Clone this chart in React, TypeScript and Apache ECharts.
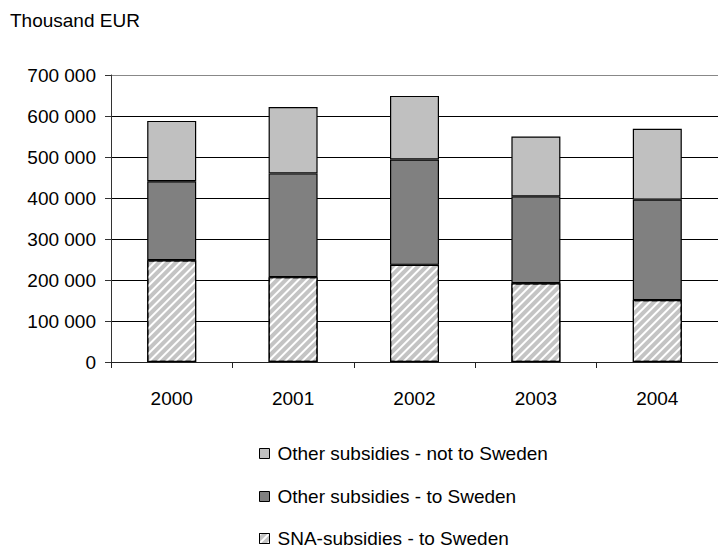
import React, { useEffect, useRef } from "react";
import * as echarts from "echarts";

const years = ["2000", "2001", "2002", "2003", "2004"];
const snaToSweden = [248000, 207000, 237000, 192000, 151000];
const otherToSweden = [193000, 253000, 257000, 212000, 245000];
const otherNotToSweden = [147000, 162000, 155000, 146000, 173000];
const seriesNames = [
  "SNA-subsidies - to Sweden",
  "Other subsidies - to Sweden",
  "Other subsidies - not to Sweden",
];
const legendOrder = [seriesNames[2], seriesNames[1], seriesNames[0]];

const FONT = "'Liberation Sans', Arial, sans-serif";

function fmt(v: number): string {
  return String(v).replace(/\B(?=(\d{3})+(?!\d))/g, " ");
}

export default function App() {
  const ref = useRef<HTMLDivElement>(null);
  useEffect(() => {
    if (!ref.current) return;
    const chart = echarts.init(ref.current, null, { renderer: "svg" });
    const border = { borderColor: "#000", borderWidth: 1.2 };
    const legendTops = [439, 482, 524];
    chart.setOption({
      animation: false,
      backgroundColor: "#fff",
      textStyle: { fontFamily: FONT },
      title: {
        text: "Thousand EUR",
        left: 5,
        top: 6,
        textStyle: { fontSize: 19, fontWeight: "normal", color: "#000", fontFamily: FONT },
      },
      grid: { left: 111, top: 75, width: 616, height: 287, containLabel: false },
      legend: legendOrder.map((name, i) => ({
        data: [name],
        orient: "vertical",
        left: 254,
        top: legendTops[i],
        itemWidth: 10,
        itemHeight: 10,
        icon: "rect",
        textStyle: { fontSize: 19, color: "#000", fontFamily: FONT, padding: [0, 0, 0, 3] },
        itemStyle: { borderColor: "#000", borderWidth: 1 },
      })),
      xAxis: {
        type: "category",
        data: years,
        axisLine: { lineStyle: { color: "#222", width: 1 } },
        axisTick: { show: true, length: 6, lineStyle: { color: "#222" } },
        axisLabel: { fontSize: 19, color: "#000", margin: 27, fontFamily: FONT },
      },
      yAxis: {
        type: "value",
        min: 0,
        max: 700000,
        interval: 100000,
        axisLine: { show: true, lineStyle: { color: "#333", width: 1 } },
        axisTick: { show: true, length: 6, lineStyle: { color: "#333" } },
        axisLabel: {
          fontSize: 19,
          color: "#000",
          margin: 15,
          fontFamily: FONT,
          formatter: (v: number) => fmt(v),
        },
        splitLine: {
          show: true,
          lineStyle: {
            color: ["#000", "#000", "#000", "#000", "#000", "#000", "#000", "#888"],
            width: 1,
          },
        },
      },
      series: [
        {
          name: seriesNames[0],
          type: "bar",
          stack: "total",
          barWidth: 49,
          data: snaToSweden,
          itemStyle: {
            color: "#c4c4c4",
            ...border,
            decal: {
              symbol: "rect",
              symbolSize: 1,
              color: "#ffffff",
              dashArrayX: [1, 0],
              dashArrayY: [2, 4],
              rotation: -Math.PI / 4,
            },
          },
        },
        {
          name: seriesNames[1],
          type: "bar",
          stack: "total",
          barWidth: 49,
          data: otherToSweden,
          itemStyle: { color: "#808080", ...border },
        },
        {
          name: seriesNames[2],
          type: "bar",
          stack: "total",
          barWidth: 49,
          data: otherNotToSweden,
          itemStyle: { color: "#c0c0c0", ...border },
        },
      ],
    });
    return () => chart.dispose();
  }, []);
  return <div ref={ref} style={{ width: 718, height: 554, position: "absolute", left: 0, top: 0 }} />;
}
